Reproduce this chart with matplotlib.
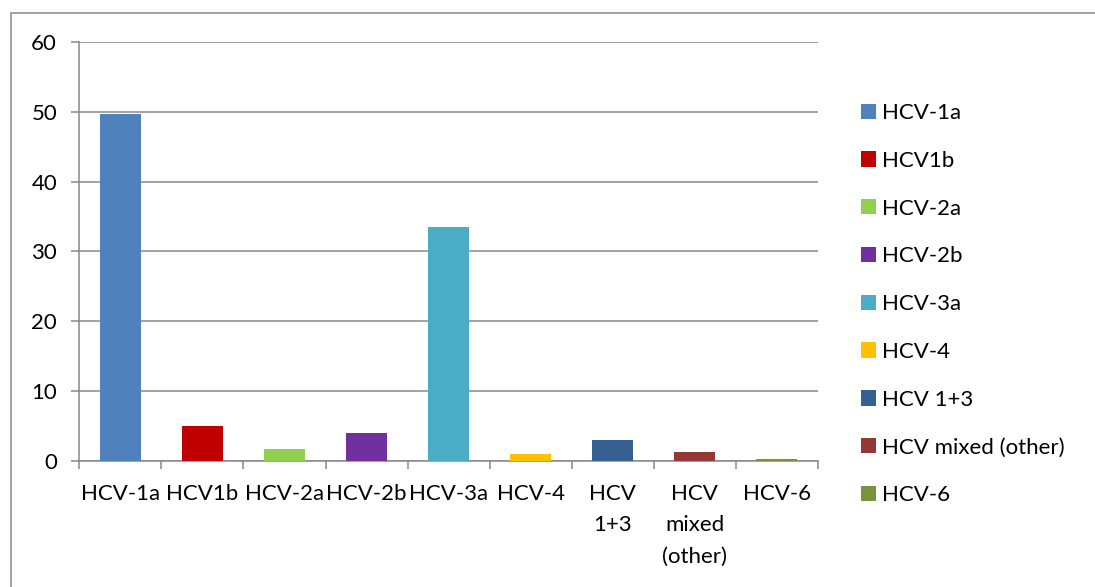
import matplotlib.pyplot as plt
from matplotlib.patches import Rectangle
from matplotlib.ticker import FixedLocator, NullFormatter

plt.rcParams["font.family"] = ["Lato", "DejaVu Sans"]

GENOTYPES = ["HCV-1a", "HCV1b", "HCV-2a", "HCV-2b", "HCV-3a", "HCV-4",
             "HCV 1+3", "HCV mixed (other)", "HCV-6"]
TICK_LABELS = ["HCV-1a", "HCV1b", "HCV-2a", "HCV-2b", "HCV-3a", "HCV-4",
               "HCV\n1+3", "HCV\nmixed\n(other)", "HCV-6"]
PERCENT = [49.7, 5.0, 1.7, 4.0, 33.5, 0.9, 3.0, 1.3, 0.3]
COLORS = ["#4F81BD", "#C00000", "#92D050", "#7030A0", "#4BACC6",
          "#FFC000", "#366092", "#953735", "#77933C"]

FS = 16
GRAY = "#888888"

fig = plt.figure(figsize=(10.95, 5.87), dpi=100)
ax = fig.add_axes([0.0724, 0.2152, 0.6746, 0.7128])

x = list(range(len(GENOTYPES)))
for xi, val, col, name in zip(x, PERCENT, COLORS, GENOTYPES):
    ax.bar(xi, val, width=0.5, color=col, label=name, zorder=3)

ax.set_xlim(-0.5, len(GENOTYPES) - 0.5)
ax.set_ylim(0, 60)
ax.set_yticks(range(0, 61, 10))
ax.yaxis.grid(True, color=GRAY, linewidth=1.1, zorder=0)

ax.set_xticks(x)
ax.set_xticklabels(TICK_LABELS, fontsize=FS, linespacing=1.7, va="top")
ax.tick_params(axis="x", which="major", length=0, pad=17)
ax.xaxis.set_minor_locator(FixedLocator([i - 0.5 for i in range(len(GENOTYPES) + 1)]))
ax.xaxis.set_minor_formatter(NullFormatter())
ax.tick_params(axis="x", which="minor", length=6, width=1.1, color=GRAY, direction="out")
ax.tick_params(axis="y", length=6, width=1.1, color=GRAY, labelsize=FS, pad=10)

for side in ["top", "right"]:
    ax.spines[side].set_visible(False)
for side in ["left", "bottom"]:
    ax.spines[side].set_color(GRAY)
    ax.spines[side].set_linewidth(1.1)

ax.legend(loc="upper left", bbox_to_anchor=(861 / 1095, 1 - 103 / 587),
          bbox_transform=fig.transFigure, frameon=False, fontsize=FS,
          handlelength=0.68, handleheight=0.68, handletextpad=0.28,
          labelspacing=1.25, borderpad=0, borderaxespad=0)

fig.add_artist(Rectangle((10.5 / 1095, -0.1), 1.2, 1.1 - 12.5 / 587,
                         transform=fig.transFigure, fill=False,
                         edgecolor=GRAY, linewidth=1.1))

fig.savefig("out.png", dpi=100)
